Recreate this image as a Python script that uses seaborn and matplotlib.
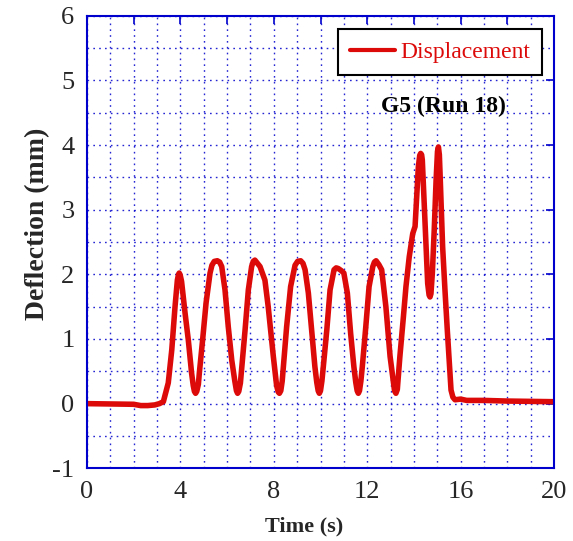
import matplotlib
matplotlib.use("Agg")
import matplotlib.pyplot as plt
import seaborn as sns
import pandas as pd
import numpy as np
from matplotlib.ticker import MultipleLocator, FixedLocator

# Data
time_s = [0.0, 1.0, 2.0, 2.3, 2.6, 2.9, 3.1, 3.27, 3.48, 3.63, 3.77, 3.87, 3.92, 3.95, 3.99,
          4.05, 4.2, 4.34, 4.48, 4.55, 4.6, 4.65, 4.7, 4.77, 4.81, 4.95, 5.1, 5.27, 5.35, 5.45, 5.58, 5.68,
          5.77, 5.91, 6.05, 6.2, 6.33, 6.4, 6.45, 6.5, 6.57, 6.63, 6.77, 6.91, 7.05, 7.12, 7.19, 7.28,
          7.41, 7.62, 7.76, 7.98, 8.12, 8.19, 8.24, 8.3, 8.36, 8.41, 8.55, 8.72, 8.91, 9.02, 9.15, 9.25,
          9.34, 9.48, 9.62, 9.76, 9.84, 9.9, 9.95, 10.0, 10.06, 10.12, 10.27, 10.41, 10.58, 10.67, 10.76, 10.88,
          11.0, 11.15, 11.29, 11.43, 11.51, 11.57, 11.62, 11.67, 11.73, 11.79, 11.94, 12.08, 12.24, 12.31, 12.38, 12.5,
          12.62, 12.8, 12.98, 13.1, 13.17, 13.23, 13.29, 13.35, 13.4, 13.55, 13.66, 13.8, 13.95, 14.05,
          14.12, 14.19, 14.25, 14.29, 14.33, 14.36, 14.43, 14.52, 14.59, 14.65, 14.69, 14.73, 14.79, 14.87,
          14.95, 15.01, 15.05, 15.09, 15.12, 15.23, 15.33, 15.43, 15.52, 15.59, 15.67, 15.76, 16.0,
          16.26, 17.0, 18.0, 19.0, 20.0]
deflection_mm = [0.0, -0.005, -0.01, -0.03, -0.03, -0.02, 0.0, 0.03, 0.32, 0.83, 1.5, 1.91, 2.0, 2.02, 1.99,
                 1.89, 1.40, 0.98, 0.47, 0.28, 0.19, 0.16, 0.19, 0.3, 0.47, 0.98, 1.56, 2.02, 2.14, 2.2, 2.21, 2.19,
                 2.12, 1.76, 1.19, 0.67, 0.35, 0.2, 0.16, 0.19, 0.32, 0.57, 1.14, 1.76, 2.12, 2.2, 2.22, 2.18,
                 2.12, 1.91, 1.5, 0.73, 0.28, 0.18, 0.16, 0.2, 0.35, 0.57, 1.19, 1.81, 2.14, 2.2, 2.21, 2.17,
                 2.07, 1.71, 1.14, 0.57, 0.33, 0.2, 0.16, 0.2, 0.35, 0.57, 1.14, 1.76, 2.07, 2.1, 2.09, 2.06,
                 2.02, 1.71, 1.09, 0.57, 0.33, 0.2, 0.16, 0.2, 0.35, 0.57, 1.19, 1.81, 2.12, 2.19, 2.21, 2.15,
                 2.07, 1.5, 0.73, 0.4, 0.2, 0.16, 0.22, 0.5, 0.73, 1.34, 1.81, 2.27, 2.63, 2.74,
                 3.2, 3.66, 3.84, 3.87, 3.85, 3.77, 3.2, 2.43, 1.86, 1.68, 1.65, 1.7, 2.02, 2.68,
                 3.45, 3.9, 3.97, 3.85, 3.56, 2.43, 1.76, 1.14, 0.62, 0.21, 0.1, 0.06, 0.07,
                 0.05, 0.05, 0.04, 0.035, 0.03]
series_name = "Displacement"
x_tick_labels = ["0", "", "4", "", "8", "", "12", "", "16", "", "20"]
y_tick_labels = ["-1", "0", "1", "2", "3", "4", "5", "6"]

df = pd.DataFrame({"Time": time_s, "Deflection": deflection_mm, "Series": series_name})

sns.set_style("white")
plt.rcParams["font.family"] = ["Liberation Serif", "DejaVu Serif"]

fig = plt.figure(figsize=(5.73, 5.41), dpi=100)
ax = fig.add_axes([87 / 573, 1 - 468.3 / 541, (554 - 87) / 573, (468.3 - 15.7) / 541])

blue = "#0000cc"
ax.xaxis.set_minor_locator(MultipleLocator(1))
ax.yaxis.set_minor_locator(MultipleLocator(0.5))
ax.grid(True, which="both", color=blue, linestyle=(0, (1.2, 3)), linewidth=1.0, alpha=0.85)
ax.set_axisbelow(True)

sns.lineplot(data=df, x="Time", y="Deflection", hue="Series", palette=["#dd0a0a"],
             linewidth=4.0, ax=ax, sort=False, estimator=None)

ax.set_xlim(0, 20)
ax.set_ylim(-1, 6)
ax.xaxis.set_major_locator(FixedLocator(np.arange(0, 21, 2)))
ax.set_xticklabels(x_tick_labels)
ax.yaxis.set_major_locator(FixedLocator(np.arange(-1, 7, 1)))
ax.set_yticklabels(y_tick_labels)

ax.tick_params(which="major", direction="in", length=6, width=1.2, color=blue,
               top=True, right=True, labelsize=19, pad=9)
ax.tick_params(which="minor", length=0)
for s in ax.spines.values():
    s.set_color(blue)
    s.set_linewidth(1.5)

ax.set_xlabel("Time (s)", fontsize=16, fontweight="bold")
ax.xaxis.set_label_coords(0.465, -0.106)
ax.set_ylabel("Deflection (mm)", fontsize=20, fontweight="bold")
ax.yaxis.set_label_coords(-0.08, 0.54)

leg = ax.legend(loc="upper right", bbox_to_anchor=(0.985, 0.98), fontsize=17,
                frameon=True, fancybox=False, handlelength=1.9, borderpad=0.5,
                handletextpad=0.25, borderaxespad=0.2)
leg.get_frame().set_edgecolor("black")
leg.get_frame().set_linewidth(1.5)
leg.get_frame().set_alpha(1)
for t in leg.get_texts():
    t.set_color("#dd0a0a")
leg.get_lines()[0].set_linewidth(3.0)

ax.text(15.25, 4.59, "G5 (Run 18)", fontsize=17, fontweight="bold", ha="center",
        va="center", color="black")

fig.savefig("out.png", dpi=100)
